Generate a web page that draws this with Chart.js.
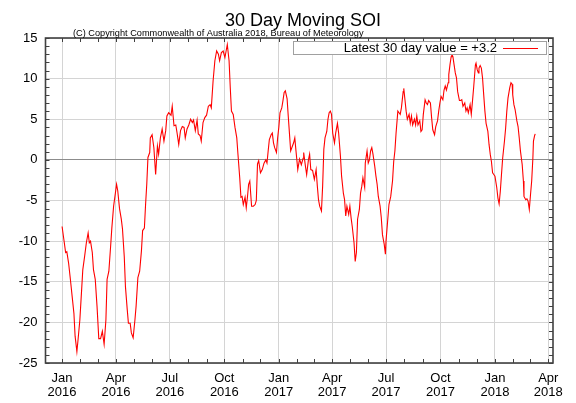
<!DOCTYPE html>
<html lang="en">
<head>
<meta charset="UTF-8">
<title>30 Day Moving SOI</title>
<style>
  html, body { margin: 0; padding: 0; background: #fff; }
  canvas { display: block; }
</style>
</head>
<body>
<canvas id="soiChart" width="576" height="403"></canvas>
<script src="https://cdn.jsdelivr.net/npm/chart.js@4.4.1/dist/chart.umd.min.js"></script>
<script>
    // days counted from 1 Jan 2016
    const startDate = Date.UTC(2016, 0, 1);

    const dayOffsets = [
        0, 3, 6, 8, 11, 14, 17, 20, 22, 25, 27, 30, 33, 35, 38, 41, 44, 46, 48, 51,
        53, 56, 59, 62, 65, 68, 71, 74, 76, 79, 82, 84, 87, 90, 92, 94, 97, 100, 102, 105,
        107, 110, 112, 115, 117, 120, 123, 125, 128, 131, 134, 136, 139, 141, 143, 145, 148, 149, 152, 155,
        158, 161, 163, 166, 169, 172, 175, 177, 180, 184, 186, 189, 192, 194, 197, 200, 203, 206, 208, 211,
        214, 217, 220, 222, 225, 228, 230, 233, 235, 238, 241, 244, 247, 250, 252, 255, 258, 261, 264, 266,
        269, 272, 275, 278, 279, 282, 284, 286, 289, 292, 295, 297, 300, 302, 304, 306, 309, 311, 313, 315,
        317, 320, 323, 326, 328, 330, 332, 335, 338, 341, 344, 346, 348, 350, 353, 355, 357, 359, 362, 364,
        366, 368, 371, 373, 375, 377, 380, 382, 384, 386, 389, 391, 393, 395, 398, 401, 404, 407, 408, 411,
        413, 416, 418, 420, 423, 426, 429, 431, 433, 435, 438, 440, 442, 444, 447, 449, 451, 453, 455, 457,
        460, 462, 465, 467, 470, 472, 475, 477, 479, 481, 484, 486, 488, 490, 493, 495, 497, 499, 502, 504,
        506, 508, 511, 512, 515, 517, 519, 521, 523, 525, 528, 530, 532, 534, 537, 539, 541, 544, 546, 547,
        550, 552, 555, 558, 560, 562, 564, 567, 569, 571, 573, 576, 577, 579, 581, 583, 586, 588, 590, 592,
        595, 597, 599, 601, 604, 606, 608, 610, 613, 615, 617, 619, 622, 624, 626, 629, 631, 634, 636, 638,
        640, 643, 645, 647, 649, 652, 653, 655, 657, 658, 660, 662, 664, 666, 668, 671, 673, 675, 677, 680,
        682, 684, 686, 689, 691, 693, 695, 698, 699, 701, 703, 704, 706, 708, 710, 712, 714, 716, 719, 721,
        723, 725, 727, 729, 731, 734, 736, 738, 740, 742, 744, 747, 749, 751, 753, 756, 758, 760, 761, 763,
        765, 768, 770, 772, 774, 777, 779, 780, 783, 785, 787, 789, 791, 793, 795, 796, 798, 799
    ];

    const soiValues = [
        -8.2, -9.8, -11.4, -11.3, -12.7, -14.7, -16.8, -18.9, -21.7, -23.6, -22.1, -19.7, -16.0, -13.5, -11.9, -10.2, -9.0, -10.2, -10.0, -11.4,
        -13.5, -14.7, -18.0, -22.0, -22.0, -21.1, -22.7, -19.7, -14.7, -13.7, -10.6, -8.4, -5.7, -4.1, -3.0, -3.8, -6.0, -7.3, -8.5, -11.9,
        -15.6, -18.4, -20.1, -20.1, -21.3, -21.9, -19.7, -18.0, -14.5, -13.7, -11.2, -8.7, -8.4, -5.5, -3.0, 0.3, 0.9, 2.7, 3.1, 1.5,
        -1.8, 1.7, 0.7, 2.7, 3.8, 2.3, 3.6, 5.4, 5.8, 5.5, 6.6, 4.2, 4.3, 3.4, 1.9, 3.6, 4.1, 4.0, 2.7, 3.8,
        4.3, 5.0, 4.6, 4.9, 3.6, 4.9, 3.2, 3.0, 2.3, 4.6, 5.2, 5.5, 6.6, 6.8, 6.4, 9.7, 12.2, 13.4, 13.0, 12.2,
        13.2, 13.4, 12.6, 13.8, 14.2, 12.2, 8.9, 6.0, 5.6, 4.0, 2.7, 0.7, -2.2, -4.6, -4.5, -5.5, -4.6, -5.9, -4.6, -3.0,
        -2.6, -5.7, -5.7, -5.5, -5.0, -0.5, -0.1, -1.6, -1.2, -0.4, 0.0, -0.4, 1.1, 2.5, 3.1, 3.3, 2.1, 1.5, 0.9, 2.7,
        4.0, 5.8, 6.4, 7.3, 8.3, 8.5, 7.5, 5.3, 3.2, 1.1, 1.7, 2.1, 2.7, 1.1, -1.2, 0.1, -0.6, 0.2, 0.9, -0.8,
        -1.8, 0.0, 0.7, -1.2, -1.3, -2.4, -1.2, -3.2, -4.9, -5.7, -6.3, -3.2, 1.3, 2.7, 3.5, 5.0, 5.8, 6.0, 5.6, 3.3,
        2.1, 3.3, 4.5, 3.3, 0.5, -2.0, -4.1, -4.9, -6.9, -5.7, -6.7, -5.7, -7.1, -8.2, -10.2, -12.5, -11.4, -7.3, -6.1, -4.1,
        -3.3, -2.2, -3.4, -0.4, 1.1, -0.4, 0.0, 1.1, 1.5, 0.7, -0.8, -2.0, -3.0, -4.5, -5.7, -7.1, -9.2, -10.4, -11.6, -10.0,
        -7.3, -5.5, -4.5, -2.6, -0.2, 1.1, 3.3, 6.0, 5.8, 5.6, 6.4, 8.4, 8.8, 7.4, 6.0, 5.0, 5.6, 4.5, 5.4, 4.3,
        5.0, 4.3, 5.4, 4.3, 4.8, 3.5, 3.7, 5.6, 7.4, 7.0, 6.8, 7.3, 7.0, 5.2, 3.7, 3.1, 4.1, 4.8, 6.0, 7.0,
        7.8, 7.4, 8.6, 9.1, 8.6, 9.5, 10.5, 11.7, 12.7, 13.0, 12.7, 11.7, 10.7, 10.1, 8.4, 7.3, 7.3, 7.4, 6.6, 7.0,
        6.0, 6.4, 5.8, 6.8, 5.6, 7.2, 8.9, 11.7, 11.9, 11.1, 10.7, 11.3, 11.6, 11.3, 10.1, 8.0, 6.0, 4.5, 3.5, 1.9,
        0.7, -0.2, -1.6, -1.8, -2.0, -3.4, -4.7, -5.4, -3.9, -1.8, 0.2, 2.3, 3.9, 6.0, 7.6, 8.9, 9.5, 9.3, 8.0, 6.8,
        6.2, 4.8, 4.1, 2.7, 1.1, -0.6, -2.6, -4.5, -4.9, -4.8, -5.1, -6.1, -4.3, -2.6, 0.2, 2.3, 3.0, 3.2
    ];

    const tickLabels = [
        ['Jan', '2016'], ['Apr', '2016'], ['Jul', '2016'], ['Oct', '2016'],
        ['Jan', '2017'], ['Apr', '2017'], ['Jul', '2017'], ['Oct', '2017'],
        ['Jan', '2018'], ['Apr', '2018']
    ];

    const monthNames = ['Jan', 'Feb', 'Mar', 'Apr', 'May', 'Jun', 'Jul', 'Aug', 'Sep', 'Oct', 'Nov', 'Dec'];
    const fontFamily = '"Liberation Sans", Arial, Helvetica, sans-serif';
    const xMin = -28, xMax = 829;

    function dayOf(year, month) {
        return (Date.UTC(year, month, 1) - startDate) / 86400000;
    }

    const tickDays = tickLabels.map(t => dayOf(+t[1], monthNames.indexOf(t[0])));

    // every month start inside the axis, for the small ticks
    const minorDays = [];
    for (let y = 2015; y <= 2018; y++) {
        for (let m = 0; m < 12; m++) {
            const d = dayOf(y, m);
            if (d > xMin && d < xMax) minorDays.push(d);
        }
    }

    const latest = soiValues[soiValues.length - 1];
    const legendText = 'Latest 30 day value = ' + (latest >= 0 ? '+' : '') + latest.toFixed(1);

    /**
     * Frame, small ticks, title, copyright line and boxed legend
     */
    const framePlugin = {
        id: 'frame',
        afterDatasetsDraw(chart) {
            const ctx = chart.ctx;
            const area = chart.chartArea;
            const xs = chart.scales.x, ys = chart.scales.y;
            ctx.save();
            ctx.strokeStyle = '#404040';
            ctx.lineWidth = 1;
            ctx.beginPath();
            minorDays.forEach(d => {
                const px = Math.round(xs.getPixelForValue(d)) + 0.5;
                ctx.moveTo(px, area.bottom);
                ctx.lineTo(px, area.bottom - 4);
                ctx.moveTo(px, area.top);
                ctx.lineTo(px, area.top + 4);
            });
            for (let v = -25; v <= 15; v++) {
                const py = Math.round(ys.getPixelForValue(v)) + 0.5;
                ctx.moveTo(area.left, py);
                ctx.lineTo(area.left + 4, py);
                ctx.moveTo(area.right, py);
                ctx.lineTo(area.right - 4, py);
            }
            ctx.stroke();
            ctx.lineWidth = 1.6;
            ctx.strokeRect(area.left, area.top, area.right - area.left, area.bottom - area.top);
            ctx.restore();
        },
        afterDraw(chart) {
            const ctx = chart.ctx;
            ctx.save();
            ctx.fillStyle = '#000';
            ctx.textBaseline = 'alphabetic';
            ctx.textAlign = 'center';
            ctx.font = '18px ' + fontFamily;
            ctx.fillText('30 Day Moving SOI', 303, 26);
            ctx.textAlign = 'left';
            ctx.font = '9.2px ' + fontFamily;
            ctx.fillText('(C) Copyright Commonwealth of Australia 2018, Bureau of Meteorology', 73, 36);

            // legend box
            ctx.fillStyle = '#fff';
            ctx.fillRect(293.5, 41.5, 253, 13);
            ctx.strokeStyle = '#a0a0a0';
            ctx.lineWidth = 1;
            ctx.strokeRect(293.5, 41.5, 253, 13);
            ctx.fillStyle = '#000';
            ctx.font = '13px ' + fontFamily;
            ctx.textAlign = 'right';
            ctx.textBaseline = 'middle';
            ctx.fillText(legendText, 497, 48.5);
            ctx.strokeStyle = '#ff0000';
            ctx.lineWidth = 1.2;
            ctx.beginPath();
            ctx.moveTo(503, 48.5);
            ctx.lineTo(538, 48.5);
            ctx.stroke();
            ctx.restore();
        }
    };

    function createChart() {
        const ctx = document.getElementById('soiChart').getContext('2d');
        new Chart(ctx, {
            type: 'line',
            data: {
                datasets: [{
                    label: legendText,
                    data: dayOffsets.map((d, i) => ({ x: d, y: soiValues[i] })),
                    borderColor: '#ff0000',
                    borderWidth: 1.1,
                    pointRadius: 0,
                    tension: 0,
                    fill: false
                }]
            },
            options: {
                responsive: false,
                animation: false,
                layout: { padding: { top: 38, right: 23, left: 0, bottom: 0 } },
                plugins: {
                    legend: { display: false },
                    title: { display: false },
                    tooltip: { enabled: false }
                },
                scales: {
                    x: {
                        type: 'linear',
                        min: xMin,
                        max: xMax,
                        afterBuildTicks: s => { s.ticks = tickDays.map(v => ({ value: v })); },
                        afterFit: s => { s.height = 40; },
                        grid: { color: '#d4d4d4', lineWidth: 1, drawTicks: false },
                        border: { display: false },
                        ticks: {
                            autoSkip: false,
                            maxRotation: 0,
                            padding: 8.5,
                            color: '#000',
                            font: { family: fontFamily, size: 13, lineHeight: 1.05 },
                            callback: (v, i) => tickLabels[i]
                        }
                    },
                    y: {
                        min: -25,
                        max: 15,
                        afterFit: s => { s.width = 45.5; },
                        grid: {
                            color: c => (c.tick && c.tick.value === 0) ? '#8c8c8c' : '#d4d4d4',
                            lineWidth: 1,
                            drawTicks: false
                        },
                        border: { display: false },
                        ticks: {
                            stepSize: 5,
                            padding: 8,
                            color: '#000',
                            font: { family: fontFamily, size: 13 }
                        }
                    }
                }
            },
            plugins: [framePlugin]
        });
    }

    document.addEventListener('DOMContentLoaded', createChart);
</script>
</body>
</html>
